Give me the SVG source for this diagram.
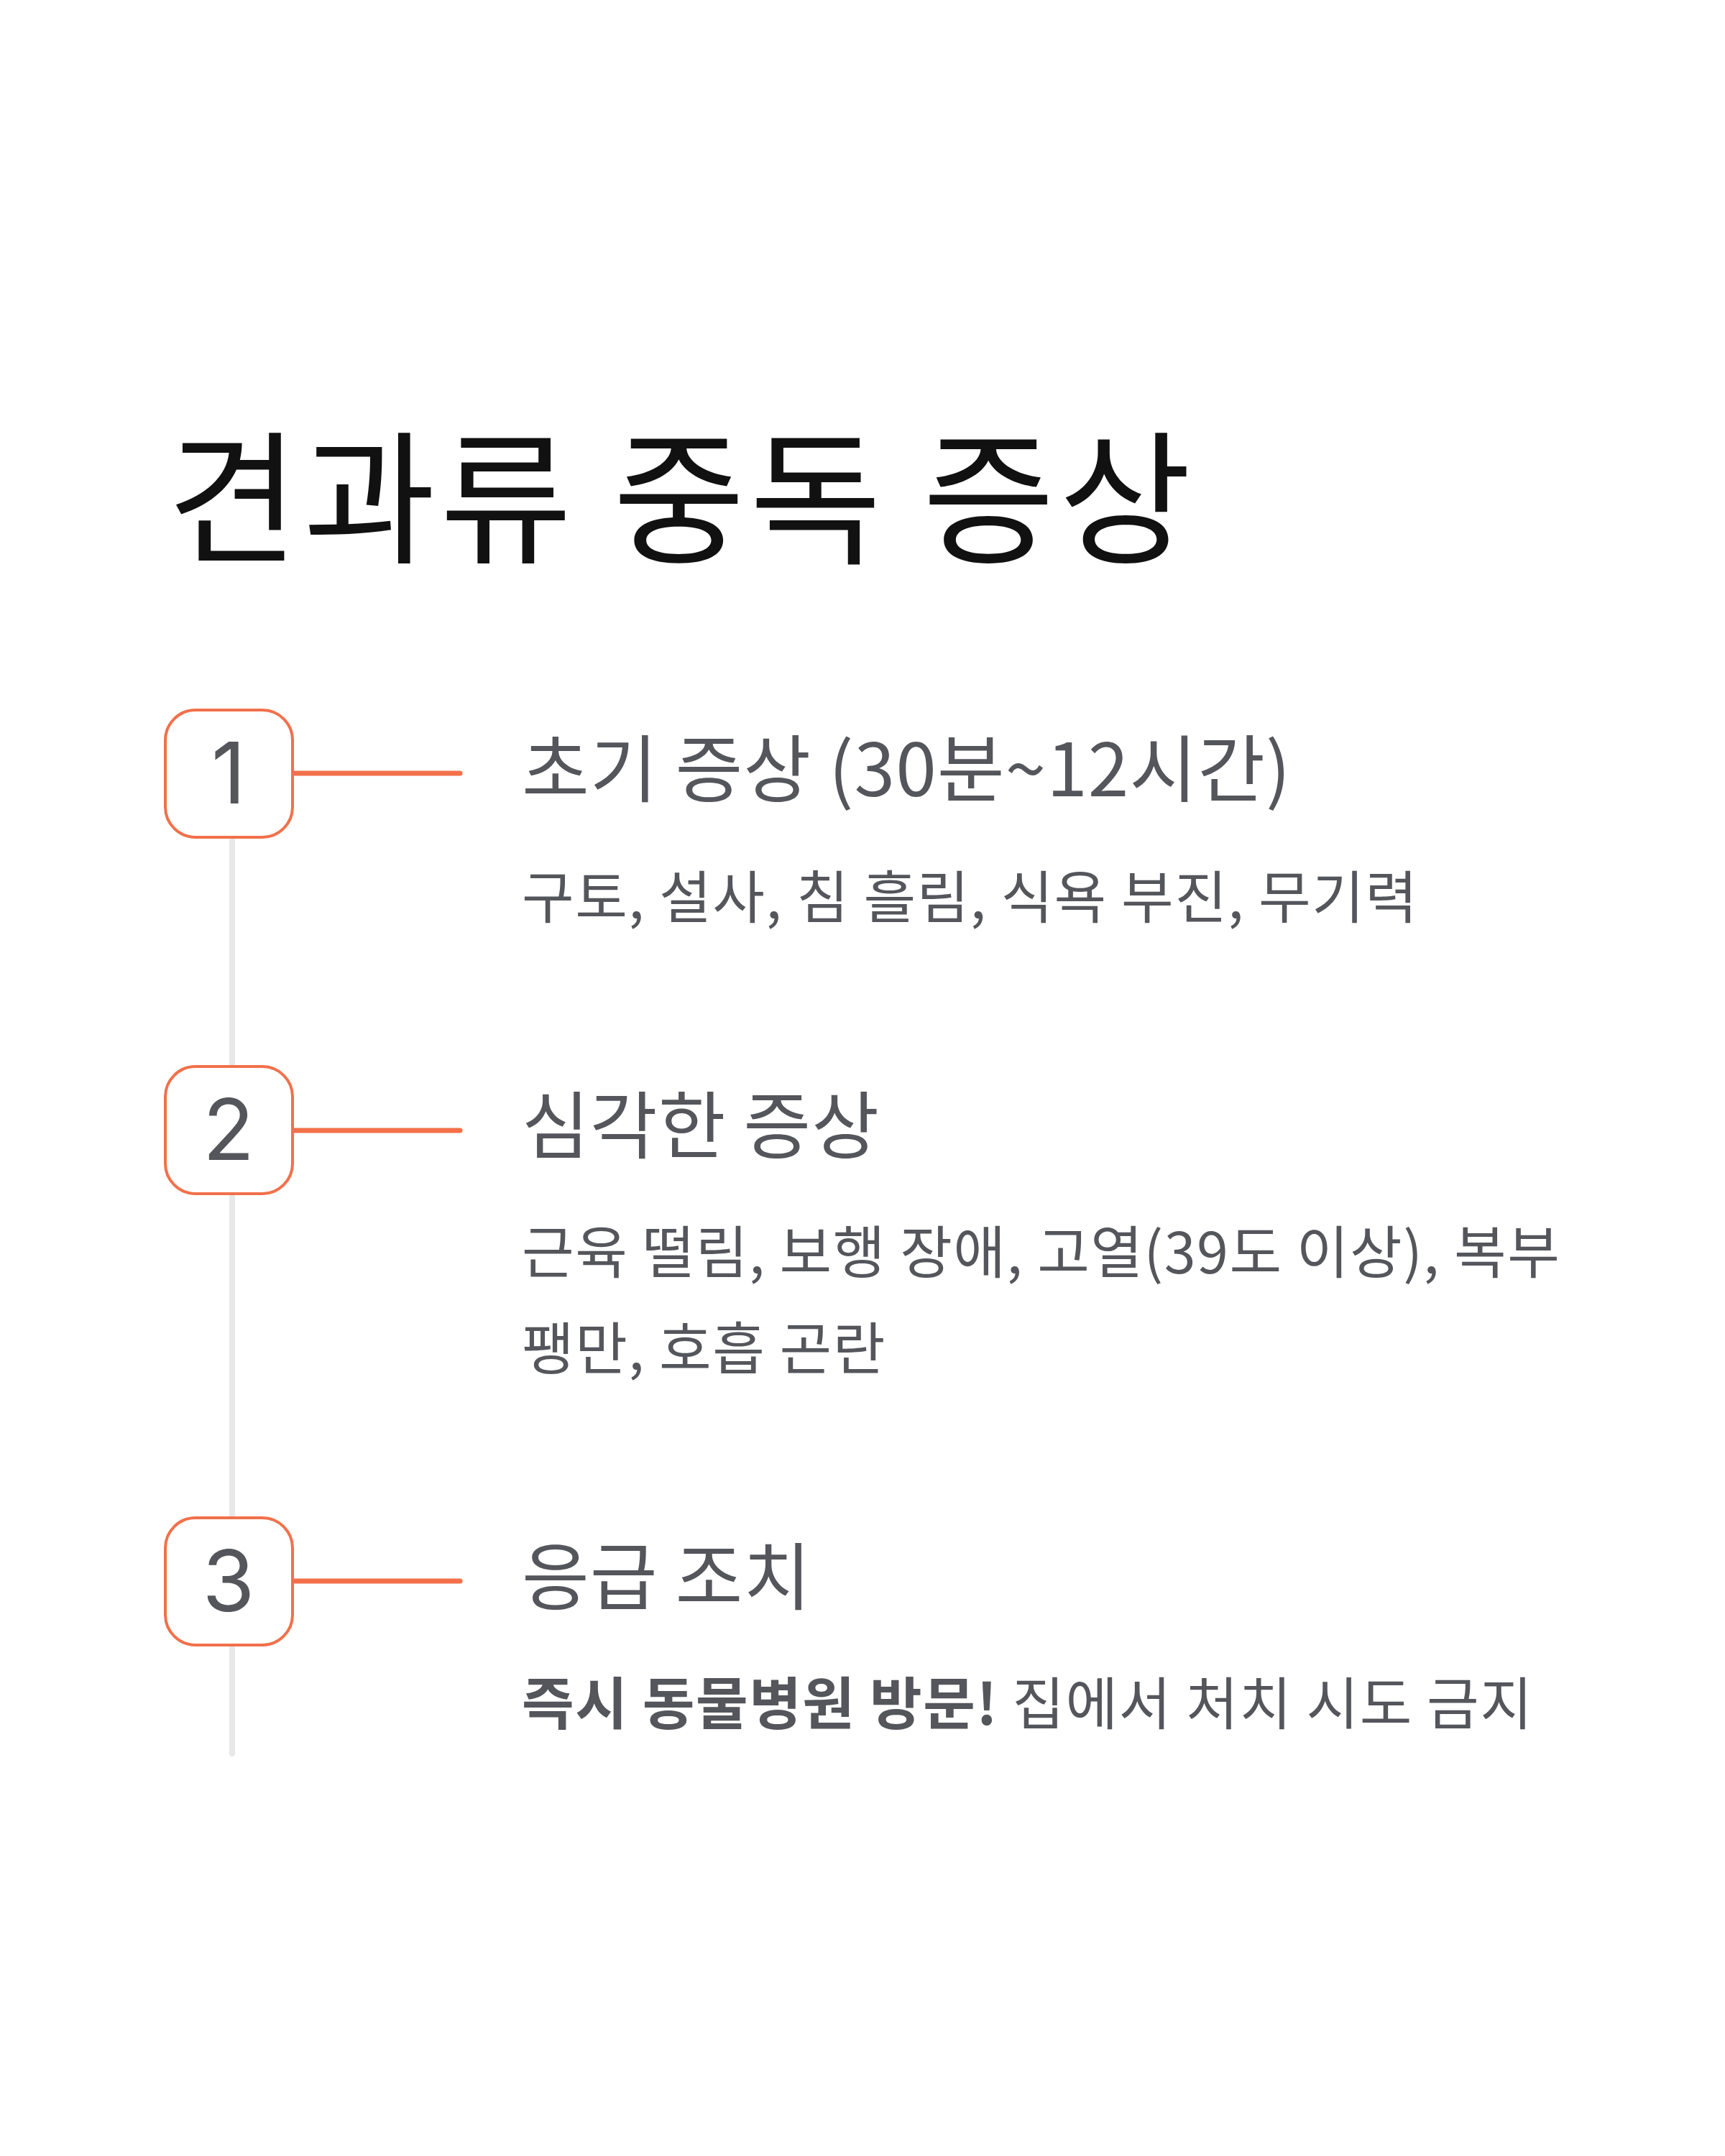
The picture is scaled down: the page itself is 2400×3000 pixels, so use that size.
<svg xmlns="http://www.w3.org/2000/svg" width="2400" height="3000" viewBox="0 0 2400 3000">
<style>
.t{font-family:"Noto Sans CJK KR","Noto Sans",sans-serif}
.title{font-size:200px;fill:#111111;font-weight:400;letter-spacing:6px}
.h{font-size:102px;fill:#55565c;letter-spacing:1px}
.b{font-size:79px;fill:#55565c;letter-spacing:1.5px}
.num{font-family:"Inter","Noto Sans",sans-serif;font-size:118px;fill:#55565c;text-anchor:middle}
.box{fill:#ffffff;stroke:#f2704a;stroke-width:4}
.con{stroke:#f2704a;stroke-width:7;stroke-linecap:round}
</style>
<rect width="2400" height="3000" fill="#ffffff"/>
<text class="t title" x="232" y="768">견과류 중독 증상</text>
<g id="connectors">
<line x1="323" y1="1165" x2="323" y2="2440" stroke="#e8e8e8" stroke-width="8" stroke-linecap="round"/>
<line class="con" x1="407" y1="1076" x2="640" y2="1076"/>
<line class="con" x1="407" y1="1573" x2="640" y2="1573"/>
<line class="con" x1="407" y1="2200" x2="640" y2="2200"/>
</g>
<g id="step1">
<rect class="box" x="230" y="988" width="177" height="177" rx="42"/>
<text class="num" x="318" y="1118">1</text>
<text class="t h" x="726" y="1108">초기 증상 (30분~12시간)</text>
<text class="t b" x="726" y="1278">구토, 설사, 침 흘림, 식욕 부진, 무기력</text>
</g>
<g id="step2">
<rect class="box" x="230" y="1484" width="177" height="177" rx="42"/>
<text class="num" x="318" y="1614">2</text>
<text class="t h" x="726" y="1604">심각한 증상</text>
<text class="t b" x="726" y="1772">근육 떨림, 보행 장애, 고열(39도 이상), 복부</text>
<text class="t b" x="726" y="1906">팽만, 호흡 곤란</text>
</g>
<g id="step3">
<rect class="box" x="230" y="2112" width="177" height="177" rx="42"/>
<text class="num" x="318" y="2242">3</text>
<text class="t h" x="726" y="2232">응급 조치</text>
<text class="t b" x="726" y="2400"><tspan font-weight="700">즉시 동물병원 방문!</tspan> 집에서 처치 시도 금지</text>
</g>
</svg>
